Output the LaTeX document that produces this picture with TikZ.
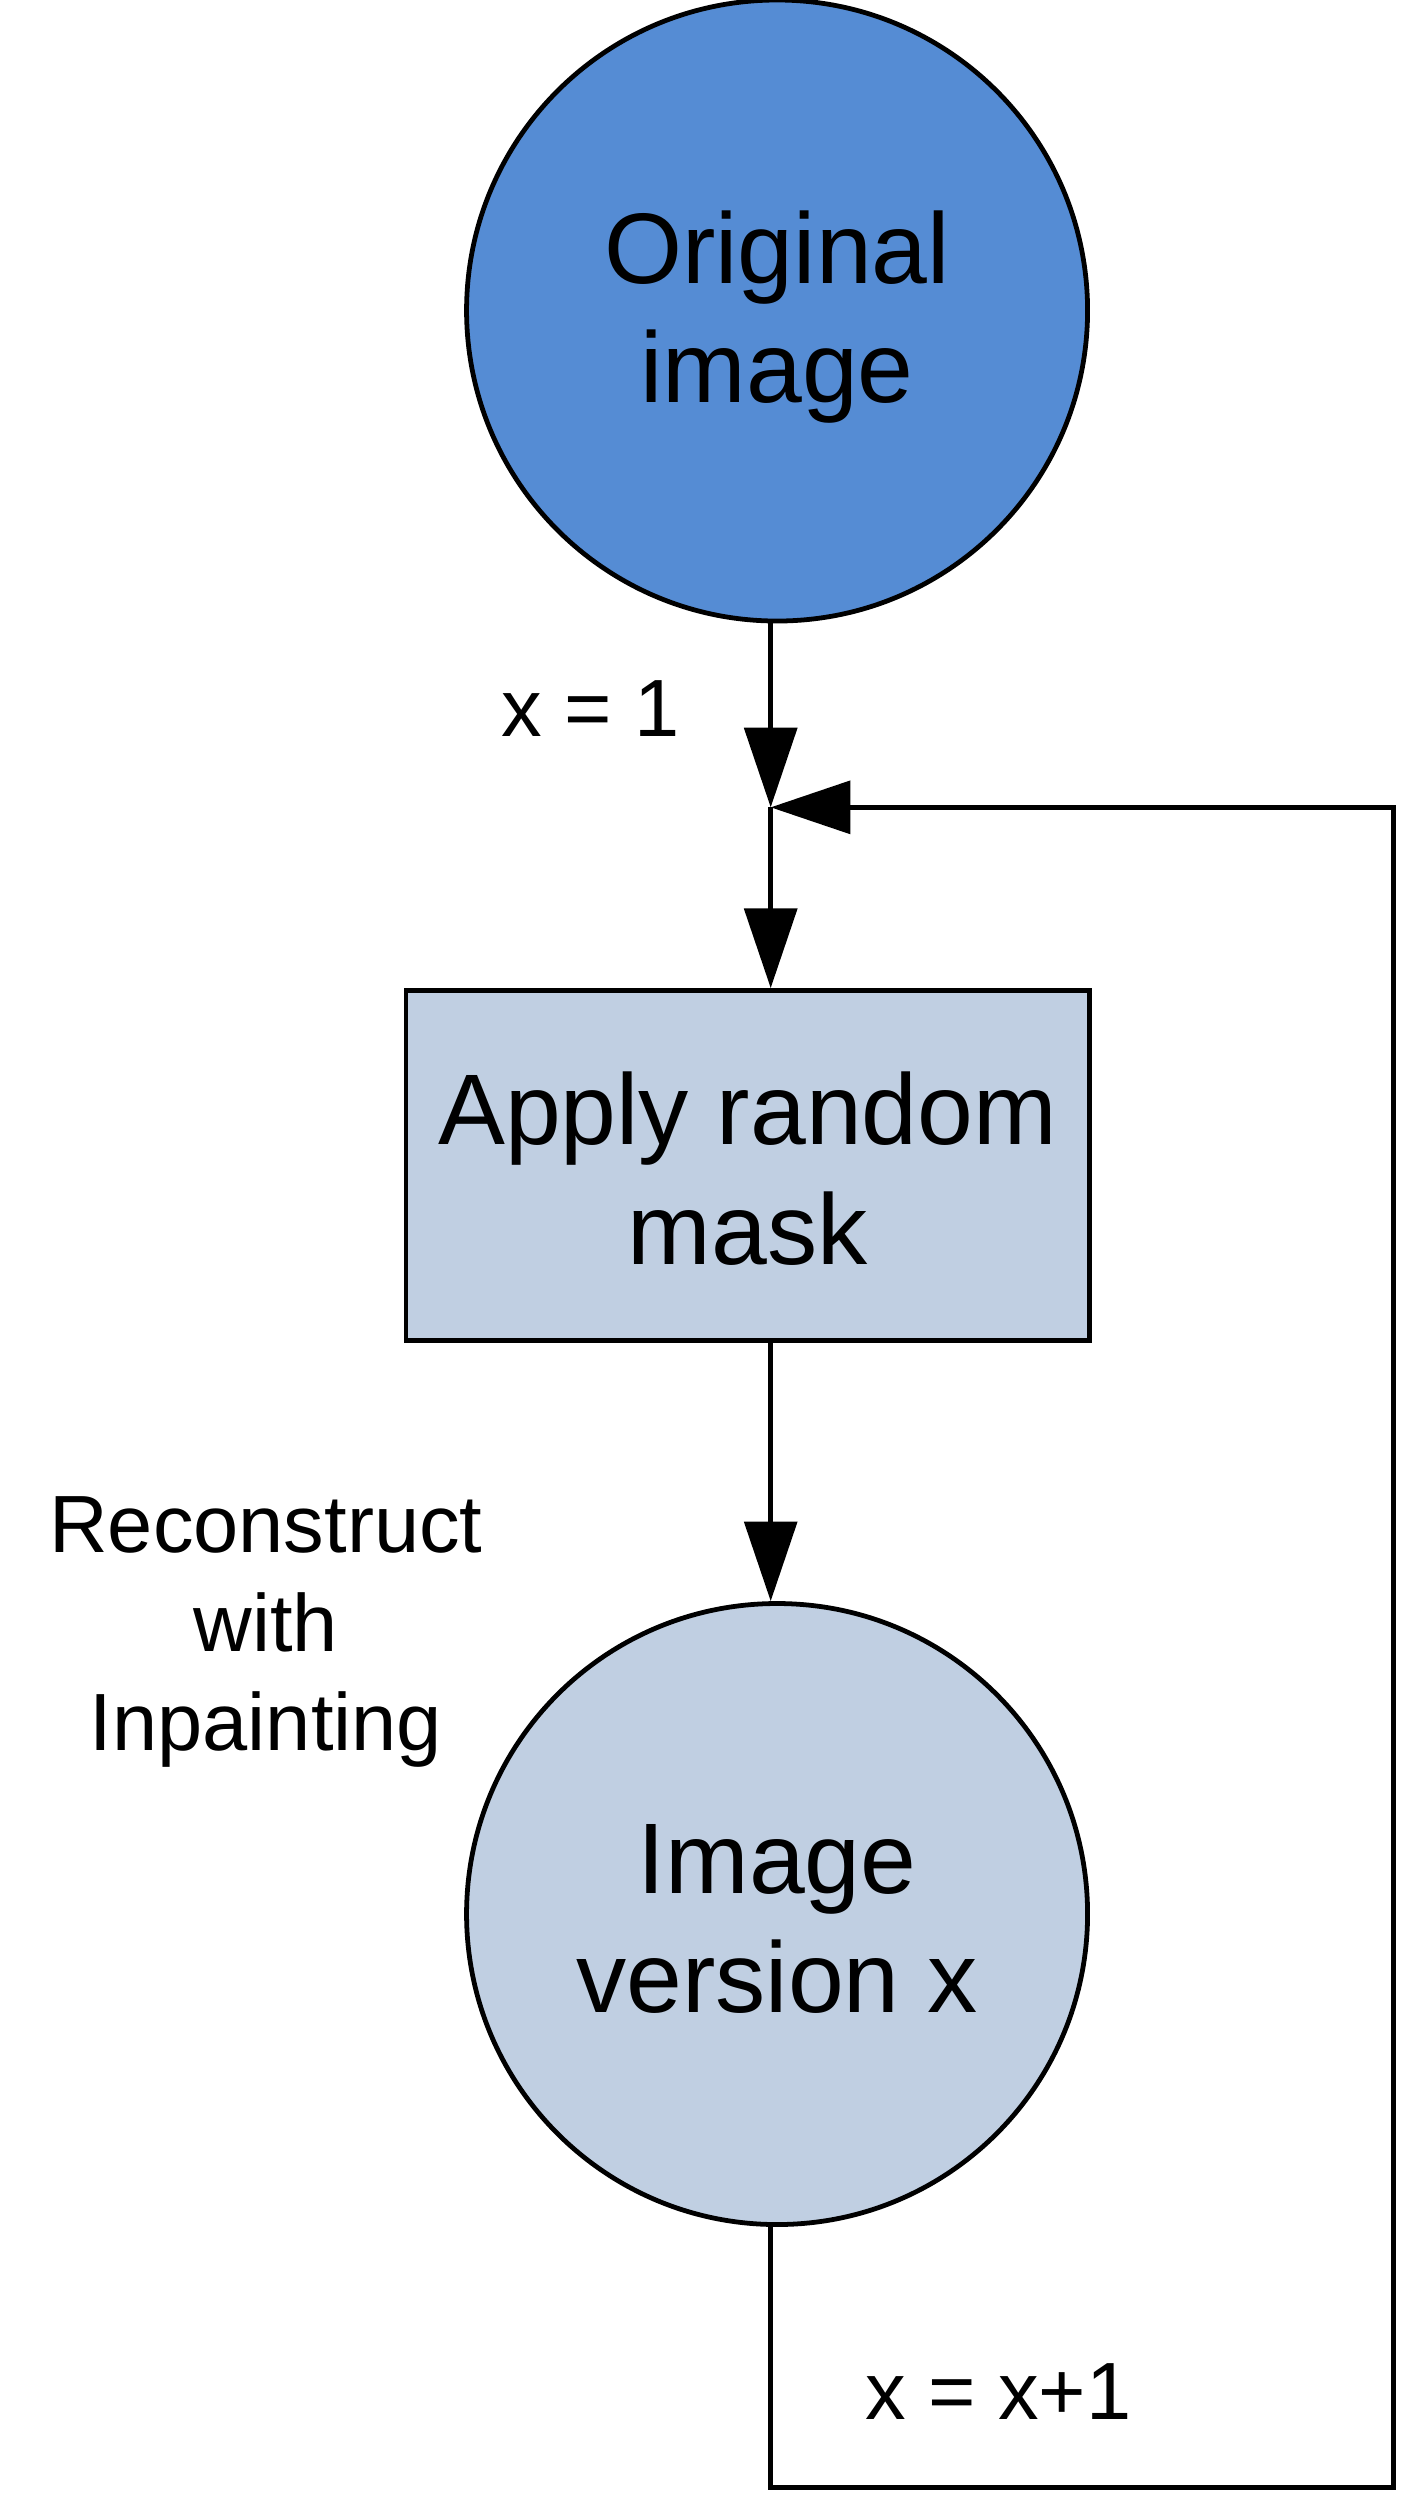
\documentclass[tikz,border=0pt]{standalone}
\usepackage{fontspec}
\setmainfont{Liberation Sans}
\usetikzlibrary{arrows.meta}
\definecolor{darkblue}{RGB}{85,140,212}
\definecolor{lightblue}{RGB}{192,207,226}
\begin{document}
\begin{tikzpicture}[x=0.5pt,y=-0.5pt,
  conn/.style={line width=1.5pt,draw=black},
  tip/.style={-{Triangle[length=25pt,width=16.5pt]}},
  bigtext/.style={font=\fontsize{31.5}{37.5}\selectfont,align=center},
  lbltext/.style={font=\fontsize{25.5}{31}\selectfont,align=center},
  circ/.style={circle,draw=black,line width=1.5pt,minimum size=195pt,inner sep=0pt},
  boxstyle/.style={rectangle,draw=black,line width=1.5pt,fill=lightblue,minimum width=214.5pt,minimum height=110pt,inner sep=0pt}]
\useasboundingbox (0,0) rectangle (880,1570);
\node[circ,fill=darkblue] (orig) at (488,195) {};
\node[bigtext] (origtxt) at (488,199) {Original\\image};
\coordinate (J) at (484,507);
\node[boxstyle] (mask) at (469.5,732) {};
\node[bigtext] (masktxt) at (469.5,734) {Apply random\\mask};
\node[circ,fill=lightblue] (ver) at (488,1202) {};
\node[bigtext] (vertxt) at (488,1205) {Image\\version x};
\coordinate (C1) at (484,1562);
\coordinate (C2) at (875,1562);
\coordinate (C3) at (875,507);
\node[lbltext] (l1) at (371,445) {x = 1};
\node[lbltext] (l2) at (167,1025) {Reconstruct\\with\\Inpainting};
\node[lbltext] (l3) at (627,1502) {x = x+1};
\draw[conn,tip] (orig.south -| J) -- (J);
\draw[conn,tip] (J) -- (J |- mask.north);
\draw[conn,tip] (mask.south -| J) -- (J |- ver.north);
\draw[conn,tip,line join=miter] (ver.south -| J) -- (C1) -- (C2) -- (C3) -- (J);
\end{tikzpicture}
\end{document}
